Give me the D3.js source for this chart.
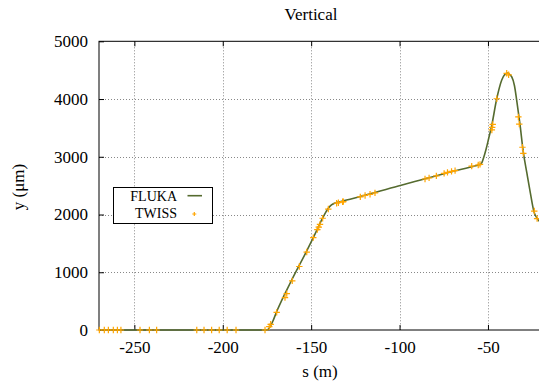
<!DOCTYPE html>
<html>
<head>
<meta charset="utf-8">
<script src="https://cdn.jsdelivr.net/npm/d3@7"></script>
<style>
  body { margin: 0; background: #fff; }
  svg { display: block; }
  svg text { font-family: "Liberation Serif", "DejaVu Serif", serif; fill: #000; }
</style>
</head>
<body>
<div id="viz-container"></div>
<script>
// FLUKA curve
var flukaS = [-270, -175, -172, -169.5, -161, -152.5, -148.8, -143.1, -140.3, -138.5, -136.5, -133.7, -128,
              -100.7, -70, -57, -55, -53.5, -52.5, -51, -49.5, -48, -45.1, -42.2, -40.5, -39, -37.5, -36.6,
              -35, -33.8, -32, -30, -28, -26, -24, -22, -20.5, -20];
var flukaY = [0, 0, 130, 320, 866, 1370, 1600, 1962, 2108, 2165, 2200, 2222, 2265,
              2494, 2745, 2845, 2862, 2895, 2980, 3140, 3330, 3521, 3996, 4330, 4425, 4450, 4420, 4387,
              4230, 3990, 3590, 3080, 2720, 2370, 2050, 1925, 1870, 1860];

// TWISS points
var twissS = [-269.8, -267, -264.7, -261.9, -259.6, -257.6, -246.8, -241.5, -237.4, -214.7, -210.6, -206.3,
              -202, -197.5, -192.5, -176.1, -173.7, -172.9, -169.5, -164.8, -163.8, -160.7, -156.7, -152.5,
              -148.8, -146.5, -145.7, -145, -143.5, -140.3, -135.6, -134.6, -132.2, -131.8, -122.2, -119.5,
              -116.7, -113.9, -85.6, -83.3, -79.2, -74.8, -72.9, -70.6, -68.6, -59.2, -55.5, -54.5, -47.3,
              -47.6, -47.8, -45, -39.4, -38.3, -32.8, -32.3, -30.5, -30, -23.8, -22.2];
var twissY = [0, 0, 0, 0, 0, 0, 0, 0, 0, 0, 0, 0,
              0, 0, 0, 0, 57, 99, 306, 560, 630, 850, 1100, 1350,
              1600, 1740, 1780, 1830, 1935, 2095, 2195, 2205, 2220, 2224, 2305, 2330,
              2350, 2375, 2615, 2635, 2670, 2712, 2730, 2748, 2760, 2838, 2858, 2868, 3560,
              3510, 3465, 4005, 4446, 4420, 3690, 3565, 3165, 3060, 2060, 1930];

var xTicks = [-250, -200, -150, -100, -50];
var yTicks = [0, 1000, 2000, 3000, 4000, 5000];

var width = 539, height = 383;
var margin = {top: 41.3, left: 99, bottom: 330, right: 541};

var svg = d3.select("#viz-container")
            .append("svg")
            .attr("width", width)
            .attr("height", height);

var x = d3.scaleLinear().domain([-270, -20]).range([margin.left, margin.right]);
var y = d3.scaleLinear().domain([0, 5000]).range([margin.bottom, margin.top]);

// plain hyphen minus, like gnuplot
var fmt = function(d) { return String(d); };

// grid
var grid = svg.append("g")
              .attr("stroke", "#888")
              .attr("stroke-width", 1)
              .attr("stroke-dasharray", "1,2");
grid.selectAll(".gx")
    .data(xTicks)
    .enter().append("line")
    .attr("x1", function(d) { return Math.round(x(d)) + 0.5; })
    .attr("x2", function(d) { return Math.round(x(d)) + 0.5; })
    .attr("y1", margin.top)
    .attr("y2", margin.bottom);
grid.selectAll(".gy")
    .data(yTicks.slice(1, -1))
    .enter().append("line")
    .attr("y1", function(d) { return Math.round(y(d)) + 0.5; })
    .attr("y2", function(d) { return Math.round(y(d)) + 0.5; })
    .attr("x1", margin.left)
    .attr("x2", margin.right);

// axes (gnuplot style: inward ticks)
svg.append("g")
   .attr("transform", "translate(0," + margin.bottom + ")")
   .call(d3.axisBottom(x).tickValues(xTicks).tickSizeInner(-5).tickSizeOuter(0).tickPadding(11)
           .tickFormat(fmt))
   .call(function(g) {
       g.attr("font-family", null).attr("font-size", 17);
       g.select(".domain").remove();
   });

svg.append("g")
   .attr("transform", "translate(0," + margin.top + ")")
   .call(d3.axisTop(x).tickValues(xTicks).tickSizeInner(-5).tickSizeOuter(0).tickFormat(""))
   .call(function(g) { g.select(".domain").remove(); });

svg.append("g")
   .attr("transform", "translate(" + margin.left + ",0)")
   .call(d3.axisLeft(y).tickValues(yTicks).tickSizeInner(-5).tickSizeOuter(0).tickPadding(11)
           .tickFormat(fmt))
   .call(function(g) {
       g.attr("font-family", null).attr("font-size", 17);
       g.select(".domain").remove();
   });

// border
svg.append("rect")
   .attr("x", margin.left)
   .attr("y", margin.top)
   .attr("width", margin.right - margin.left)
   .attr("height", margin.bottom - margin.top)
   .attr("fill", "none")
   .attr("stroke", "#000")
   .attr("stroke-width", 1);

// FLUKA line
var line = d3.line()
             .x(function(d) { return x(d[0]); })
             .y(function(d) { return y(d[1]); })
             .curve(d3.curveMonotoneX);

svg.append("path")
   .datum(d3.zip(flukaS, flukaY))
   .attr("d", line)
   .attr("fill", "none")
   .attr("stroke", "#556b2f")
   .attr("stroke-width", 1.6);

// TWISS markers
var plus = 3.2;
svg.append("g")
   .selectAll("path")
   .data(d3.zip(twissS, twissY))
   .enter().append("path")
   .attr("d", function(d) {
       var cx = x(d[0]), cy = y(d[1]);
       return "M" + (cx - plus) + "," + cy + "H" + (cx + plus) +
              "M" + cx + "," + (cy - plus) + "V" + (cy + plus);
   })
   .attr("stroke", "#ffa500")
   .attr("stroke-width", 1.2);

// title and axis labels
svg.append("text")
   .attr("x", 311).attr("y", 20)
   .attr("text-anchor", "middle")
   .attr("font-size", 17)
   .text("Vertical");

svg.append("text")
   .attr("x", 320).attr("y", 377)
   .attr("text-anchor", "middle")
   .attr("font-size", 17)
   .text("s (m)");

svg.append("text")
   .attr("transform", "translate(24,187) rotate(-90)")
   .attr("text-anchor", "middle")
   .attr("font-size", 17)
   .text("y (\u03bcm)");

// legend
var lg = svg.append("g").attr("id", "legend");
lg.append("rect")
  .attr("x", 113.5).attr("y", 187.5)
  .attr("width", 99).attr("height", 36)
  .attr("fill", "#fff")
  .attr("stroke", "#000")
  .attr("stroke-width", 1);
lg.append("text")
  .attr("x", 177).attr("y", 200.5)
  .attr("text-anchor", "end")
  .attr("font-size", 14)
  .text("FLUKA");
lg.append("text")
  .attr("x", 177).attr("y", 218)
  .attr("text-anchor", "end")
  .attr("font-size", 14)
  .text("TWISS");
lg.append("line")
  .attr("x1", 187.5).attr("x2", 202)
  .attr("y1", 195.7).attr("y2", 195.7)
  .attr("stroke", "#556b2f")
  .attr("stroke-width", 1.6);
lg.append("path")
  .attr("d", "M" + (194.3 - 2) + ",214H" + (194.3 + 2) + "M194.3," + (214 - 2) + "V" + (214 + 2))
  .attr("stroke", "#ffa500")
  .attr("stroke-width", 1.2);
</script>
</body>
</html>
